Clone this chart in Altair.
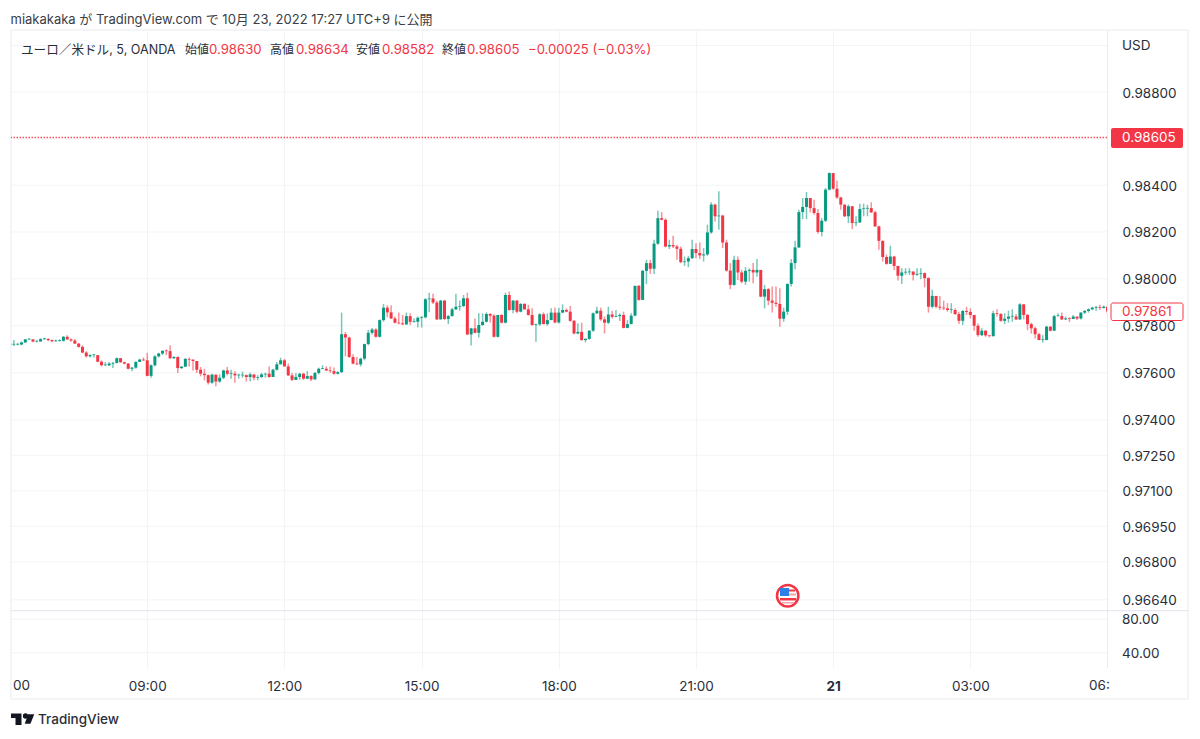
import altair as alt
import pandas as pd

# price data, in points above 0.97000 (1 point = 0.00001), one per 5-minute bar from 06:00
first_open = 722
closes = [
720,720,720,729,742,742,733,733,743,744,
739,734,736,736,753,742,737,724,710,686,
670,675,675,647,632,632,639,642,662,645,
639,617,622,646,656,653,587,632,670,682,
693,692,662,667,620,626,659,656,650,613,
596,590,558,592,563,579,610,596,596,589,
589,590,582,593,579,582,593,596,582,613,
636,653,627,589,570,582,596,575,586,572,
599,617,617,610,607,596,603,764,750,667,
639,636,660,722,770,784,753,824,877,857,
831,813,810,806,841,817,817,834,836,913,
916,899,827,907,829,841,870,881,884,917,
763,789,770,803,817,850,843,753,846,813,
931,867,907,860,893,870,846,803,806,849,
807,824,856,814,856,867,860,821,767,774,
739,744,779,853,864,827,813,848,838,841,
846,791,807,843,970,910,1034,1067,1043,1150,
1259,1252,1138,1144,1138,1128,1071,1074,1088,1127,
1110,1100,1104,1198,1317,1267,1270,1155,1035,974,
1081,1027,988,1034,1038,1027,1038,924,956,907,
898,893,830,860,978,1067,1134,1285,1307,1345,
1302,1281,1200,1248,1381,1452,1385,1348,1317,1267,
1310,1238,1241,1298,1300,1302,1284,1224,1162,1093,
1064,1095,1055,1013,1027,1028,1031,1017,1021,1024,
1003,881,927,881,877,874,867,867,850,821,
863,859,846,800,760,779,759,756,853,850,
821,830,839,839,827,891,846,807,789,764,
739,739,796,779,841,841,827,831,829,839,
831,856,863,870,877,879,876,881,861]
highs = [
724,739,727,733,744,746,743,739,747,749,
747,742,742,742,756,760,746,744,727,717,
692,679,679,675,653,646,646,646,665,662,
647,642,625,649,660,665,685,635,675,685,
696,699,717,670,670,629,663,665,653,650,
625,617,593,596,593,593,613,625,613,606,
596,605,593,600,593,589,599,600,627,617,
646,664,659,639,599,599,599,600,607,589,
603,622,632,627,627,622,607,856,773,753,
679,667,664,724,782,790,789,827,893,887,
887,839,856,846,856,853,831,839,841,917,
941,936,907,910,910,846,877,936,907,931,
941,792,831,853,853,857,853,849,846,849,
941,946,910,910,896,896,889,874,810,853,
857,853,874,878,877,891,874,884,824,810,
813,747,781,856,881,877,839,881,864,867,
853,860,824,853,970,974,1038,1081,1081,1167,
1291,1285,1258,1167,1184,1145,1138,1095,1098,1167,
1152,1155,1131,1231,1327,1321,1374,1274,1167,1067,
1098,1095,1038,1050,1045,1067,1085,1038,974,960,
967,967,960,877,981,1084,1162,1295,1345,1371,
1345,1338,1298,1259,1388,1455,1452,1419,1349,1317,
1317,1309,1267,1321,1321,1317,1327,1291,1227,1164,
1103,1141,1098,1055,1045,1045,1045,1031,1045,1045,
1027,1007,953,927,927,907,896,896,874,860,
867,881,874,846,810,789,781,760,864,870,
853,853,864,870,850,896,893,850,813,796,
770,760,800,799,846,853,856,839,836,846,
839,857,867,874,881,884,889,887,884]
lows = [
713,714,717,717,727,739,730,729,733,739,
734,730,732,732,733,739,732,722,707,683,
665,665,665,645,627,629,629,620,639,642,
636,615,606,617,646,650,585,579,627,665,
675,675,659,659,599,616,625,627,610,599,
585,568,550,553,543,558,573,589,575,558,
575,579,563,563,568,568,577,579,579,599,
610,636,627,586,565,570,570,570,573,565,
570,593,615,607,600,592,593,599,670,664,
636,633,627,653,717,763,750,750,817,836,
829,810,806,803,803,803,814,793,792,831,
857,893,824,831,824,807,839,867,864,879,
760,716,767,750,800,814,814,750,750,810,
810,864,853,853,857,867,843,800,732,800,
806,800,824,810,810,853,857,817,764,764,
736,729,741,774,850,821,767,807,831,836,
820,789,789,806,840,907,913,978,1021,1021,
1145,1250,1134,1127,1131,1081,1067,1055,1050,1084,
1088,1084,1074,1098,1192,1245,1210,1131,1031,956,
970,995,981,974,988,981,1010,921,874,888,
856,881,796,817,846,967,1041,1131,1255,1255,
1284,1274,1192,1181,1242,1378,1381,1341,1295,1264,
1238,1212,1224,1238,1267,1267,1281,1221,1124,1074,
1060,1063,1038,993,978,1017,1017,993,1013,998,
964,856,874,874,867,867,860,853,846,807,
803,846,831,779,753,756,753,750,753,839,
817,807,813,817,824,824,827,781,767,746,
739,729,756,776,779,839,824,824,816,831,
824,827,850,856,867,864,867,873,850]
assert len(closes) == len(highs) == len(lows) == 289

price_ticks = [0.99000, 0.98800, 0.98400, 0.98200, 0.98000, 0.97800, 0.97600,
               0.97400, 0.97250, 0.97100, 0.96950, 0.96800, 0.96640]
price_labels = [0.98800, 0.98400, 0.98200, 0.98000, 0.97800, 0.97600,
                0.97400, 0.97250, 0.97100, 0.96950, 0.96800, 0.96640]
osc_ticks = [80, 40]
time_ticks = [36, 72, 108, 144, 180, 216, 252]
time_labels = ["09:00", "12:00", "15:00", "18:00", "21:00", "21", "03:00"]
bold_tick = 216
last_close = 0.98605
prev_close = 0.97861

legend_texts = ["ユーロ／米ドル, 5, OANDA", "始値", "0.98630", "高値", "0.98634", "安値", "0.98582",
                "終値", "0.98605", "−0.00025 (−0.03%)"]
legend_x = [21, 185, 209, 270, 296, 356, 382, 442, 467, 528]
legend_sizes = [12.6, 12, 13.2, 12, 13.2, 12, 13.2, 12, 13.2, 13.1]
RED = "#f23645"
GREEN = "#089981"
INK = "#2a2e39"
GRID = "#f3f4f7"
EDGE = "#e9ebf0"
SEP = "#e0e3eb"
FONT = "Inter, 'Noto Sans CJK JP', sans-serif"
legend_colors = [INK, INK, RED, INK, RED, INK, RED, INK, RED, RED]

opens = [first_open] + closes[:-1]
rows = []
for i, (o, c, h, l) in enumerate(zip(opens, closes, highs, lows)):
    lo_b, hi_b = min(o, c), max(o, c)
    hi_b = max(hi_b, lo_b + 3)
    rows.append(dict(bar=i, high=0.97 + max(h, hi_b) / 1e5, low=0.97 + min(l, lo_b) / 1e5,
                     top=0.97 + hi_b / 1e5, bottom=0.97 + lo_b / 1e5,
                     dir="up" if c >= o else "down"))
bars = pd.DataFrame(rows)

L, T = 11, 30          # page position of the plot area
one = pd.DataFrame({"a": [0]})
xscale = alt.Scale(domain=[0.244, 287.86], nice=False, zero=False, padding=0)
yscale = alt.Scale(type="log", domain=[0.96354, 0.99067], nice=False, zero=False)
oscale = alt.Scale(domain=[21.7, 785.7], nice=False, zero=False)
color = alt.Color("dir:N", scale=alt.Scale(domain=["up", "down"], range=[GREEN, RED]), legend=None)

label_expr = "[" + ",".join(f"'{t}'" for t in time_labels) + "][datum.value/36-1]"
xaxis = alt.Axis(values=time_ticks, labelExpr=label_expr, title=None, domain=False, ticks=False,
                 grid=True, gridColor=GRID, labelColor=INK, labelFont=FONT, labelFontSize=13.5,
                 labelPadding=11, labelOverlap=False, labelFlush=False,
                 labelFontWeight={"condition": {"test": f"datum.value==={bold_tick}", "value": "bold"},
                                  "value": "normal"})
yaxis = alt.Axis(values=price_labels, orient="right", format=".5f", title=None, domain=False, ticks=False,
                 grid=False, labelColor=INK, labelFont=FONT, labelFontSize=13.5, labelPadding=15,
                 labelOffset=1, labelOverlap=False, labelFlush=False)

X = alt.X("bar:Q", scale=xscale, axis=xaxis)
base = alt.Chart(bars)


def rect(x0, x1, y0, y1, fill, **kw):
    return alt.Chart(one).mark_rect(fill=fill, **kw).encode(
        x=alt.value(x0 - L), x2=alt.value(x1 - L), y=alt.value(y0 - T), y2=alt.value(y1 - T))


def hline(y, x0, x1, c):
    return alt.Chart(one).mark_rule(color=c, strokeWidth=1).encode(
        x=alt.value(x0 - L), x2=alt.value(x1 - L), y=alt.value(y - T))


def vline(x, y0, y1, c):
    return alt.Chart(one).mark_rule(color=c, strokeWidth=1).encode(
        x=alt.value(x - L), y=alt.value(y0 - T), y2=alt.value(y1 - T))


def text(s, x, y, c=INK, size=13, align="left", **kw):
    return alt.Chart(one).mark_text(color=c, fontSize=size, font=FONT, align=align, baseline="middle", **kw).encode(
        x=alt.value(x - L), y=alt.value(y - T), text=alt.value(s))


grid_df = pd.DataFrame({"price": price_ticks})
grid = alt.Chart(grid_df).mark_rule(color=GRID, strokeWidth=1).encode(
    y=alt.Y("price:Q", scale=yscale, axis=yaxis))
osc_df = pd.DataFrame({"v": osc_ticks, "label": [f"{v:.2f}" for v in osc_ticks]})
osc_grid = alt.Chart(osc_df).mark_rule(color=GRID, strokeWidth=1).encode(
    y=alt.Y("v:Q", scale=oscale, axis=None))
osc_text = alt.Chart(osc_df).mark_text(color=INK, font=FONT, fontSize=13.5, align="left", baseline="middle", dy=1).encode(
    x=alt.value(1122 - L), y=alt.Y("v:Q", scale=oscale, axis=None), text="label:N")

wicks = base.mark_rule(strokeWidth=1.5, opacity=0.55, clip=True).encode(
    x=X, y=alt.Y("low:Q", scale=yscale, axis=None), y2="high:Q", color=color)
bodies = base.mark_bar(size=3, clip=True).encode(
    x=X, y=alt.Y("bottom:Q", scale=yscale, axis=None), y2="top:Q", color=color)

last_df = pd.DataFrame({"p": [last_close], "label": [f"{last_close:.5f}"]})
prev_df = pd.DataFrame({"p": [prev_close], "label": [f"{prev_close:.5f}"]})
last_line = alt.Chart(last_df).mark_rule(color="#f7525f", strokeWidth=1.5, strokeDash=[1.5, 1.5]).encode(
    y=alt.Y("p:Q", scale=yscale, axis=None))
last_tag = rect(1111, 1183, 128, 148, RED, cornerRadius=2)
last_txt = alt.Chart(last_df).mark_text(color="white", font=FONT, fontSize=13.5, align="left", baseline="middle", dy=0.5).encode(
    x=alt.value(1122 - L), y=alt.Y("p:Q", scale=yscale, axis=None), text="label:N")
prev_tag = rect(1111, 1183, 303, 320.5, "white", cornerRadius=2, stroke=RED, strokeWidth=1)
prev_txt = alt.Chart(prev_df).mark_text(color=RED, font=FONT, fontSize=13.5, align="left", baseline="middle", dy=0.5).encode(
    x=alt.value(1122 - L), y=alt.Y("p:Q", scale=yscale, axis=None), text="label:N")

# country event marker
event = [
    alt.Chart(one).mark_point(shape="circle", filled=True, fill="white", stroke=RED, strokeWidth=2.5,
                              opacity=1, size=460).encode(x=alt.value(787.7 - L), y=alt.value(595.7 - T)),
    rect(780, 789, 588, 596, "#2f7fe8"),
    rect(789, 795, 589.5, 591.5, RED),
    rect(789, 796, 593.5, 595.5, "#f7a3aa"),
    rect(780, 796, 598, 600.5, RED),
    rect(782, 794, 602, 603.5, "#f7a3aa"),
]

# TradingView logo
logo = [
    rect(11, 21.5, 713.5, 718, "#131722"),
    rect(15.5, 21.5, 718, 725, "#131722"),
    alt.Chart(one).mark_point(shape="circle", filled=True, fill="#131722", opacity=1, size=28).encode(
        x=alt.value(25.5 - L), y=alt.value(716 - T)),
    alt.Chart(one).mark_point(shape="M-0.3,-1 L1,-1 L0.2,1 L-1,1 Z", filled=True, fill="#131722", opacity=1,
                              size=90).encode(x=alt.value(29.5 - L), y=alt.value(719 - T)),
]

layers = [grid, osc_grid]
layers += [hline(T, L, 1188, EDGE), hline(699, L, 1188, EDGE), vline(L, T, 699, EDGE), vline(1188, T, 699, EDGE),
           vline(1107.5, T, 668, EDGE), hline(610.7, L, 1188, SEP)]
layers += [last_line, wicks, bodies, last_tag, last_txt, prev_tag, prev_txt, osc_text]
layers += event + logo
layers += [text("USD", 1122, 45.5, size=13.5),
           text("00", 13, 686, size=13.5),
           text("06:", 1089, 686, size=13.5),
           text("TradingView", 38, 719.5, c="#2a2e39", size=13.5, fontWeight=500),
           text("miakakaka が TradingView.com で 10月 23, 2022 17:27 UTC+9 に公開", 10.5, 20, c="#3a3d45", size=13)]
layers += [text(s, x, 50, c=c, size=z) for s, x, c, z in zip(legend_texts, legend_x, legend_colors, legend_sizes)]

chart = (alt.layer(*layers)
         .resolve_scale(y="independent")
         .properties(width=1096, height=638,
                     padding={"left": 3, "top": 22, "right": 85, "bottom": 63},
                     autosize=alt.AutoSizeParams(type="none", contains="content"),
                     background="white")
         .configure_view(stroke=None))

chart.save("out.html", embed_options={"renderer": "svg", "actions": False})
